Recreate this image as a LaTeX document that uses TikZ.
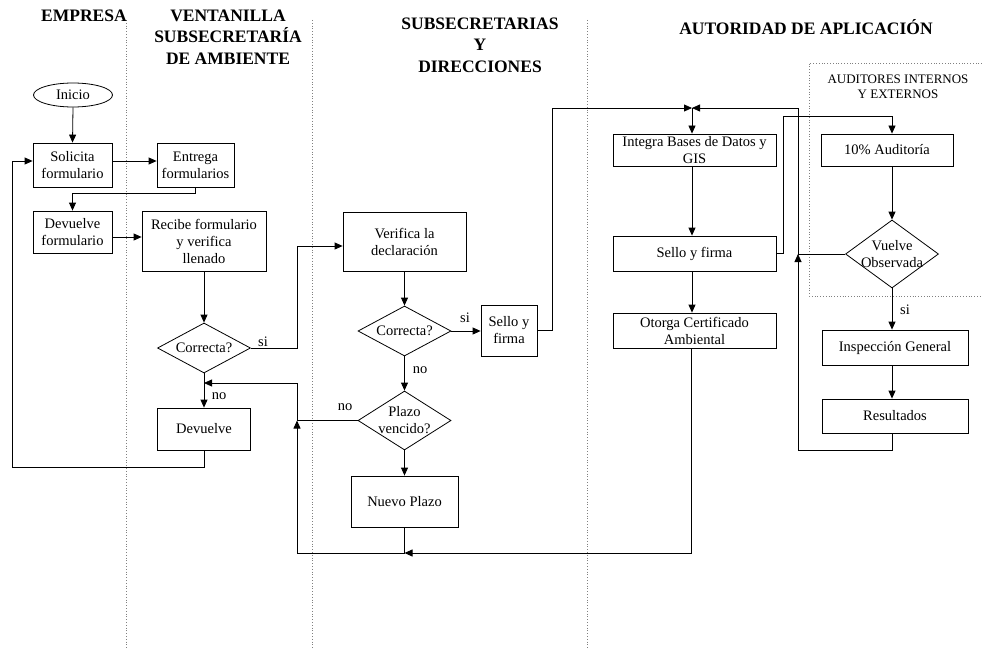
\documentclass[tikz,border=0pt]{standalone}
\usepackage{fontspec}
\setmainfont{Liberation Serif}
\usetikzlibrary{arrows.meta,shapes.geometric}
\begin{document}
\begin{tikzpicture}[x=1pt,y=-1pt,
  txt/.style={font=\fontsize{14.5}{17}\selectfont},
  box/.style={txt, draw, line width=0.8pt, align=center, inner sep=0.5pt},
  dia/.style={draw, diamond, line width=0.8pt, inner sep=0pt},
  dlabel/.style={txt, align=center},
  conn/.style={line width=0.8pt},
  arr/.style={conn, -{Triangle[length=8pt,width=7pt]}},
  lane/.style={gray, dotted, line width=0.8pt},
  hdr/.style={font=\fontsize{17.5}{21.5}\selectfont\bfseries, align=center},
  small/.style={font=\fontsize{13}{15}\selectfont, align=center}]
\useasboundingbox (0,0) rectangle (982,650);

% lanes
\draw[lane] (126,20) -- (126,650);
\draw[lane] (312,20) -- (312,650);
\draw[lane] (587,20) -- (587,650);
\draw[lane] (982,63) -- (809,63) -- (809,296) -- (982,296);

% headers
\node[hdr] (h1) at (84,16) {EMPRESA};
\node[hdr] (h2) at (228,37) {VENTANILLA\\SUBSECRETARÍA\\DE AMBIENTE};
\node[hdr] (h3) at (480,45) {SUBSECRETARIAS\\Y\\DIRECCIONES};
\node[hdr] (h4) at (806,27) {AUTORIDAD DE APLICACIÓN};
\node[small] (h5) at (898,86.5) {AUDITORES INTERNOS\\Y EXTERNOS};

% nodes
\node[box, ellipse, minimum width=79pt, minimum height=24pt] (ini) at (73,95) {Inicio};
\node[box, minimum width=79pt, minimum height=44pt] (sol) at (72.5,165) {Solicita\\formulario};
\node[box, minimum width=77pt, minimum height=44pt] (ent) at (195.5,165) {Entrega\\formularios};
\node[box, minimum width=79pt, minimum height=42pt] (dev1) at (72.5,232) {Devuelve\\formulario};
\node[box, minimum width=124pt, minimum height=60pt] (rec) at (204,241) {Recibe formulario\\y verifica\\llenado};
\node[dia, minimum width=93pt, minimum height=50pt, label={[dlabel]center:Correcta?}] (c1) at (204,348) {};
\node[box, minimum width=93pt, minimum height=42pt] (dv) at (204,429) {Devuelve};

\node[box, minimum width=123pt, minimum height=59pt] (ver) at (404.5,241.5) {Verifica la\\declaración};
\node[dia, minimum width=93pt, minimum height=50pt, label={[dlabel]center:Correcta?}] (c2) at (404.5,331) {};
\node[box, minimum width=56pt, minimum height=51pt] (sf1) at (509,330.5) {Sello y\\firma};
\node[dia, minimum width=93pt, minimum height=59pt, label={[dlabel]center:Plazo\\vencido?}] (pv) at (404.5,420.5) {};
\node[box, minimum width=107pt, minimum height=51pt] (np) at (404.5,501.5) {Nuevo Plazo};

\node[box, minimum width=163pt, minimum height=32pt] (int) at (694.5,150) {Integra Bases de Datos y\\GIS};
\node[box, minimum width=163pt, minimum height=35pt] (sf2) at (694.5,253.5) {Sello y firma};
\node[box, minimum width=163pt, minimum height=35pt] (oto) at (694.5,330.5) {Otorga Certificado\\Ambiental};

\node[box, minimum width=132pt, minimum height=32pt] (aud) at (887,150) {10\% Auditoría};
\node[dia, minimum width=93pt, minimum height=68pt, label={[dlabel]center:Vuelve\\Observada}] (vo) at (892,254) {};
\node[box, minimum width=146pt, minimum height=35pt] (ins) at (895,347.5) {Inspección General};
\node[box, minimum width=146pt, minimum height=34pt] (res) at (895,416) {Resultados};

% helper coordinates
\coordinate (j) at (692,108);
\coordinate (m) at (404.5,553);
\coordinate (lb) at (297,553);
\coordinate (lj) at (297,420.5);
\coordinate (lt) at (297,383);
\coordinate (rj) at (798,254);

% connectors
\draw[arr] (ini.south) -- (sol.north);
\draw[arr] ([yshift=4pt]sol.east) -- ([yshift=4pt]sol.east -| ent.west);
\draw[arr] (ent.south) -- ++(0,6) -| (dev1.north);
\draw[arr] ([yshift=-5pt]dev1.east) -- ([yshift=-5pt]dev1.east -| rec.west);
\draw[arr] (rec.south) -- (c1.north);
\draw[arr] (c1.east) -- (297,348) |- ([yshift=-4.5pt]ver.west);
\node[txt] (si1) at (263,342) {si};
\draw[arr] (c1.south) -- (dv.north);
\node[txt] (no1) at (219,396) {no};
\draw[arr] (dv.south) -- (204,467) -- (12,467) |- ([yshift=4pt]sol.west);

\draw[arr] (ver.south) -- (c2.north);
\draw[arr] (c2.east) -- (c2.east -| sf1.west);
\node[txt] (si2) at (465,318) {si};
\draw[arr] (c2.south) -- (pv.north);
\node[txt] (no2) at (420,370) {no};
\draw[arr] (pv.south) -- (np.north);
\draw[conn] (pv.west) -- (lj);
\node[txt] (no3) at (345,407) {no};
\draw[conn] (np.south) -- (m);
\draw[arr] (oto.south -| 691,0) |- (m);
\draw[arr] (m) -- (lb) -- (lj);
\draw[arr] (lj) -- (lt) -- (lt -| c1.south);

\draw[arr] (sf1.east) -| (552,108) -- (j);
\draw[arr] (j) -- (j |- int.north);
\draw[arr] (int.south -| j) -- (sf2.north -| j);
\draw[arr] (sf2.south -| j) -- (oto.north -| j);

\draw[arr] (sf2.east) -| (783,116) -| (aud.north -| vo.north);
\draw[arr] (aud.south -| vo.north) -- (vo.north);
\draw[arr] (vo.south) -- (vo.south |- ins.north);
\node[txt] (si3) at (905,310) {si};
\draw[arr] (ins.south -| vo.south) -- (res.north -| vo.south);
\draw[arr] (res.south -| vo.south) -- (892,450) -- (798,450) -- (rj);
\draw[arr] (rj) -- (798,108) -- (j);
\draw[conn] (vo.west) -- (rj);
\end{tikzpicture}
\end{document}
